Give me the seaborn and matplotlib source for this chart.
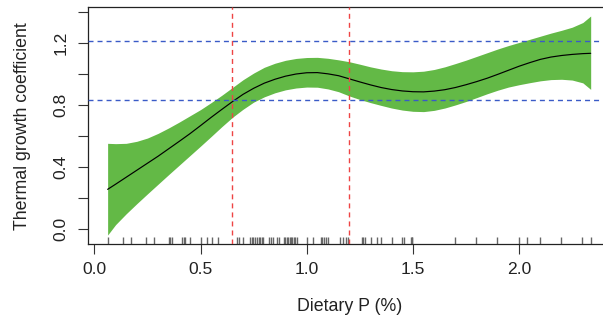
import numpy as np
import pandas as pd
import matplotlib
matplotlib.use("Agg")
import matplotlib.pyplot as plt
import seaborn as sns

# Fitted smooth of thermal growth coefficient vs dietary P, with its confidence band
dietary_p = [0.0625, 0.10, 0.15, 0.20, 0.25, 0.30, 0.35, 0.40, 0.45, 0.50,
             0.55, 0.60, 0.65, 0.70, 0.75, 0.80, 0.85, 0.90, 0.95, 1.00,
             1.05, 1.10, 1.15, 1.20, 1.25, 1.30, 1.35, 1.40, 1.45, 1.50,
             1.55, 1.60, 1.65, 1.70, 1.75, 1.80, 1.85, 1.90, 1.95, 2.00,
             2.05, 2.10, 2.15, 2.20, 2.25, 2.30, 2.337]
tgc_fit = [0.257, 0.290, 0.335, 0.380, 0.425, 0.470, 0.518, 0.566, 0.615, 0.667,
           0.720, 0.771, 0.821, 0.868, 0.907, 0.940, 0.965, 0.985, 0.999, 1.007,
           1.008, 1.000, 0.988, 0.968, 0.948, 0.929, 0.912, 0.899, 0.890, 0.885,
           0.884, 0.889, 0.898, 0.912, 0.930, 0.950, 0.972, 0.997, 1.023, 1.049,
           1.072, 1.093, 1.108, 1.118, 1.125, 1.130, 1.132]
tgc_lower = [-0.037, 0.030, 0.100, 0.165, 0.228, 0.290, 0.352, 0.413, 0.474, 0.535,
             0.597, 0.660, 0.720, 0.772, 0.818, 0.852, 0.878, 0.897, 0.909, 0.915,
             0.914, 0.903, 0.885, 0.858, 0.835, 0.815, 0.797, 0.780, 0.767, 0.759,
             0.757, 0.765, 0.780, 0.800, 0.822, 0.847, 0.872, 0.895, 0.915, 0.930,
             0.943, 0.955, 0.963, 0.965, 0.960, 0.942, 0.900]
tgc_upper = [0.553, 0.551, 0.553, 0.566, 0.587, 0.617, 0.652, 0.690, 0.730, 0.770,
             0.815, 0.862, 0.912, 0.962, 1.005, 1.042, 1.068, 1.087, 1.099, 1.105,
             1.106, 1.100, 1.090, 1.078, 1.062, 1.045, 1.031, 1.020, 1.014, 1.013,
             1.017, 1.028, 1.045, 1.066, 1.088, 1.112, 1.136, 1.160, 1.182, 1.202,
             1.222, 1.242, 1.262, 1.280, 1.300, 1.330, 1.372]

# Observed dietary P levels (rug)
observed_p = [0.063, 0.133, 0.174, 0.243, 0.282, 0.353, 0.357, 0.364, 0.412, 0.420,
              0.425, 0.451, 0.501, 0.530, 0.553, 0.580, 0.671, 0.680, 0.702,
              0.733, 0.741, 0.749, 0.757, 0.765, 0.773, 0.781, 0.788, 0.796,
              0.824, 0.831, 0.840, 0.859, 0.871,
              0.893, 0.900, 0.906, 0.913, 0.920, 0.926, 0.933, 0.940, 0.947, 0.953,
              1.000, 1.031, 1.066, 1.074, 1.083, 1.091, 1.099,
              1.158, 1.172, 1.185, 1.193, 1.259, 1.266, 1.274, 1.301, 1.329, 1.348,
              1.400, 1.449, 1.457, 1.489, 1.494, 1.498, 1.700, 1.799, 1.898, 1.998,
              2.039, 2.097, 2.199, 2.296, 2.337]

# Reference thresholds
p_thresholds = [0.65, 1.20]
tgc_thresholds = [0.83, 1.21]

x_ticks = [0.0, 0.5, 1.0, 1.5, 2.0]
x_ticklabels = ["0.0", "0.5", "1.0", "1.5", "2.0"]
y_ticks = [0.0, 0.2, 0.4, 0.6, 0.8, 1.0, 1.2, 1.4]
y_ticklabels = ["0.0", "", "0.4", "", "0.8", "", "1.2", ""]

sns.set_theme(style="ticks")
plt.rcParams["font.family"] = ["Liberation Sans", "DejaVu Sans"]

fit = pd.DataFrame({"p": dietary_p, "tgc": tgc_fit, "lo": tgc_lower, "hi": tgc_upper})

W, H = 603, 326
fig = plt.figure(figsize=(W / 100, H / 100), dpi=100)
ax = fig.add_axes([88.3 / W, 1 - 244 / H, (610 - 88.3) / W, (244 - 7.3) / H])

ax.fill_between(fit["p"], fit["lo"], fit["hi"], color="#63B946", lw=0, zorder=1)
sns.lineplot(data=fit, x="p", y="tgc", ax=ax, color="black", lw=0.85,
             estimator=None, sort=False, zorder=2)
sns.rugplot(x=observed_p, ax=ax, height=0.028, color="#666666", lw=0.8,
            clip_on=False, zorder=2)

for xv in p_thresholds:
    ax.axvline(xv, color="#EE4444", lw=1.0, dashes=(3.6, 2.9), zorder=3)
for yv in tgc_thresholds:
    ax.axhline(yv, color="#3A5BC7", lw=1.0, dashes=(3.6, 2.9), zorder=3)

ax.set_xlim(-0.0285, 2.428)
ax.set_ylim(-0.0945, 1.428)

ax.set_xticks(x_ticks)
ax.set_xticklabels(x_ticklabels)
ax.set_yticks(y_ticks)
ax.set_yticklabels(y_ticklabels, rotation=90, va="center")

ax.tick_params(axis="both", length=7.2, width=0.8, color="#333333",
               labelsize=12.6, labelcolor="#222222")
ax.tick_params(axis="x", pad=5.5)
ax.tick_params(axis="y", pad=7)

for side in ["left", "top", "bottom", "right"]:
    ax.spines[side].set_color("#222222")
    ax.spines[side].set_linewidth(0.9)

ax.set_xlabel("Dietary P (%)", fontsize=12.8, color="#222222", labelpad=15.5)
ax.set_ylabel("Thermal growth coefficient", fontsize=12.8, color="#222222", labelpad=16.5)

fig.savefig("out.png", dpi=100)
